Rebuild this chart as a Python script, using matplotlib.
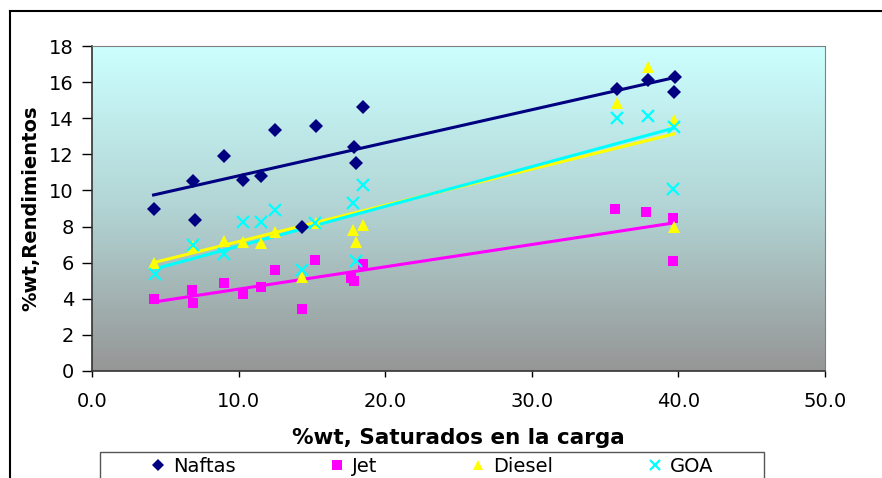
import numpy as np
import matplotlib
matplotlib.use("Agg")
import matplotlib.pyplot as plt
from matplotlib.colors import LinearSegmentedColormap
from matplotlib.lines import Line2D
from matplotlib.patches import Rectangle

plt.rcParams["font.family"] = ["DejaVu Sans"]

# saturados en la carga (%wt) and yields (%wt) per cut
naftas_x = [4.2, 6.9, 7.0, 9.0, 10.3, 11.5, 12.5, 14.3, 15.3, 17.9, 18.0, 18.5, 35.8, 37.9, 39.8, 39.7]
naftas_y = [9.0, 10.5, 8.35, 11.9, 10.6, 10.8, 13.35, 7.95, 13.55, 12.4, 11.5, 14.6, 15.6, 16.1, 16.3, 15.45]

jet_x = [4.2, 6.8, 6.9, 9.0, 10.3, 11.5, 12.5, 14.3, 15.2, 17.7, 17.9, 18.5, 35.7, 37.8, 39.6, 39.6]
jet_y = [4.0, 4.5, 3.77, 4.88, 4.27, 4.65, 5.6, 3.43, 6.15, 5.15, 5.0, 5.93, 9.0, 8.8, 8.48, 6.1]

diesel_x = [4.2, 6.9, 9.0, 10.3, 11.5, 12.5, 14.3, 15.3, 17.8, 18.0, 18.5, 35.8, 37.9, 39.7, 39.7]
diesel_y = [6.0, 6.9, 7.2, 7.15, 7.1, 7.7, 5.2, 8.2, 7.8, 7.15, 8.1, 14.85, 16.85, 13.9, 8.0]

goa_x = [4.3, 6.9, 9.0, 10.3, 11.5, 12.5, 14.3, 15.2, 17.8, 18.5, 18.0, 35.8, 37.9, 39.7, 39.6]
goa_y = [5.4, 7.0, 6.5, 8.25, 8.25, 8.9, 5.6, 8.2, 9.3, 10.3, 6.1, 14.0, 14.1, 13.5, 10.1]

# linear trend lines: (slope, intercept)
naftas_trend = (0.183, 8.98)
jet_trend = (0.1235, 3.30)
diesel_trend = (0.2008, 5.16)
goa_trend = (0.2203, 4.71)

series = [
    ("Naftas", naftas_x, naftas_y, naftas_trend, "#000080", "D", 7),
    ("Jet", jet_x, jet_y, jet_trend, "#ff00ff", "s", 7.5),
    ("Diesel", diesel_x, diesel_y, diesel_trend, "#ffff00", "^", 8.5),
    ("GOA", goa_x, goa_y, goa_trend, "#00ffff", "x", 8.5),
]

fig = plt.figure(figsize=(8.82, 4.78), dpi=100)
ax = fig.add_axes([92 / 882, 1 - 371 / 478, 733 / 882, 325 / 478])

# background gradient of the plot area
cmap = LinearSegmentedColormap.from_list(
    "bg", [(0, "#969696"), (0.5, "#b2d4d4"), (1, "#ccffff")])
grad = np.linspace(0, 1, 256).reshape(-1, 1)
ax.imshow(grad, cmap=cmap, aspect="auto", extent=[0, 1, 0, 1],
          transform=ax.transAxes, origin="lower", zorder=0)

handles = []
for name, xs, ys, trend, col, mk, ms in series:
    xs = np.array(xs)
    ys = np.array(ys)
    mew = 1.6 if mk == "x" else 0
    ax.plot(xs, ys, linestyle="none", marker=mk, color=col, markersize=ms,
            markeredgewidth=mew, zorder=3)
    m, b = trend
    xl = np.array([xs.min(), xs.max()])
    ax.plot(xl, m * xl + b, color=col, linewidth=2.2, zorder=2)
    handles.append(Line2D([], [], linestyle="none", marker=mk, color=col,
                          markersize=ms - 1, markeredgewidth=mew, label=name))

ax.set_xlim(0, 50)
ax.set_ylim(0, 18)
ax.set_xticks(np.arange(0, 51, 10))
ax.set_xticklabels([f"{v:.1f}" for v in np.arange(0, 51, 10)])
ax.set_yticks(np.arange(0, 19, 2))
ax.tick_params(labelsize=14, width=1, direction="out", colors="black")
ax.tick_params(axis="x", length=4, pad=11)
ax.tick_params(axis="y", length=7, pad=6)

for s in ["top", "right"]:
    ax.spines[s].set_color("#808080")
for s in ["left", "bottom"]:
    ax.spines[s].set_color("#333333")
    ax.spines[s].set_linewidth(1.2)

ax.set_xlabel("%wt, Saturados en la carga", fontsize=15.5, fontweight="bold", labelpad=12)
ax.set_ylabel("%wt,Rendimientos", fontsize=14, fontweight="bold", labelpad=6)

# legend box at the bottom, running past the lower edge
fig.add_artist(Rectangle((100 / 882, -0.1), 664 / 882, 0.1 + 1 - 452 / 478,
                         transform=fig.transFigure, facecolor="white",
                         edgecolor="#555555", linewidth=1))
leg = fig.legend(handles=handles, loc="center left", ncol=4,
                 bbox_to_anchor=(150 / 882, 1 - 466 / 478),
                 frameon=False, fontsize=14, borderpad=0, borderaxespad=0,
                 handlelength=0.8, handletextpad=0.38, columnspacing=4.8)

# outer chart frame
fig.add_artist(Line2D([10 / 882, 10 / 882], [0, 1 - 11 / 478], color="black",
                      linewidth=1.5, transform=fig.transFigure))
fig.add_artist(Line2D([10 / 882, 1], [1 - 11 / 478, 1 - 11 / 478], color="black",
                      linewidth=1.5, transform=fig.transFigure))

fig.savefig("out.png", dpi=100)
